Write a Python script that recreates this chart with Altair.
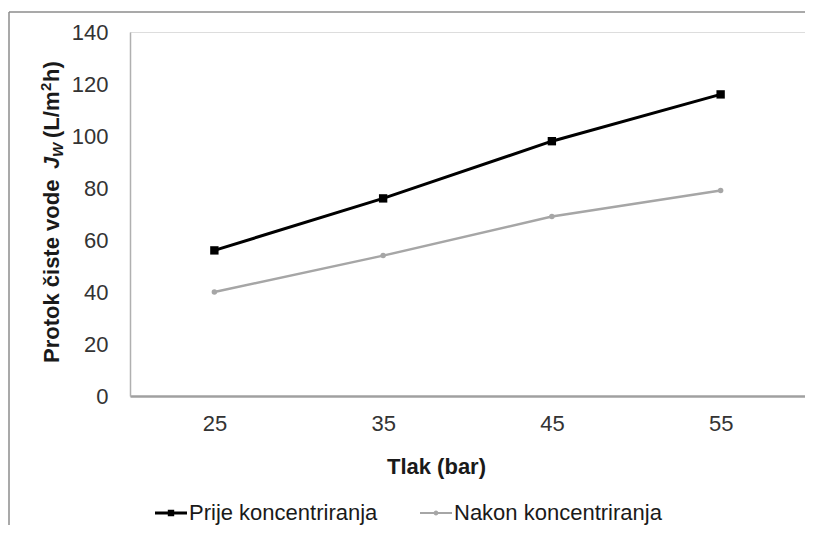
import altair as alt
import pandas as pd

# ---- data ----
pressure = ["25", "35", "45", "55"]
prije = [56, 76, 98, 116]
nakon = [40, 54, 69, 79]
series_names = ["Prije koncentriranja", "Nakon koncentriranja"]

rows = []
for p, v in zip(pressure, prije):
    rows.append({"Tlak": p, "Jw": v, "Serija": series_names[0]})
for p, v in zip(pressure, nakon):
    rows.append({"Tlak": p, "Jw": v, "Serija": series_names[1]})
df = pd.DataFrame(rows)
one = pd.DataFrame({"k": [0]})

FONT = "Liberation Sans"
W, H = 675, 364

x_enc = alt.X("Tlak:O", sort=pressure,
              scale=alt.Scale(type="point", padding=0.5),
              axis=alt.Axis(title="Tlak (bar)", labelAngle=0, ticks=False, tickSize=0,
                            labelPadding=17, labelFontSize=22, labelFont=FONT,
                            labelColor="#333333", domainColor="#a0a0a0", domainWidth=2.5,
                            titleFont=FONT, titleFontSize=22, titleFontWeight="bold",
                            titleColor="#1a1a1a", titleX=306, titleY=70,
                            titleBaseline="middle", titleAnchor="start", titleAlign="center",
                            grid=False))
y_enc = alt.Y("Jw:Q",
              scale=alt.Scale(domain=[0, 140], nice=False),
              axis=alt.Axis(title=None, values=list(range(0, 141, 20)), ticks=False,
                            tickSize=0, labelPadding=22, labelFontSize=22, labelFont=FONT,
                            labelColor="#333333", domainColor="#b0b0b0", domainWidth=1.5,
                            grid=False))

base = alt.Chart(df)

line_black = base.transform_filter(alt.datum.Serija == series_names[0]).mark_line(
    color="#000000", strokeWidth=3).encode(x=x_enc, y=y_enc)
line_gray = base.transform_filter(alt.datum.Serija == series_names[1]).mark_line(
    color="#a6a6a6", strokeWidth=2.5).encode(x=x_enc, y=y_enc)
pt_black = base.transform_filter(alt.datum.Serija == series_names[0]).mark_point(
    shape="square", filled=True, size=70, color="#000000", opacity=1).encode(x=x_enc, y=y_enc)
pt_gray = base.transform_filter(alt.datum.Serija == series_names[1]).mark_point(
    shape="circle", filled=True, size=30, color="#a6a6a6", opacity=1).encode(x=x_enc, y=y_enc)

sym_square = ("M-1,-0.09L1,-0.09L1,0.09L-1,0.09Z"
              "M-0.2,-0.2L0.2,-0.2L0.2,0.2L-0.2,0.2Z")
sym_circle = ("M-1,-0.07L1,-0.07L1,0.07L-1,0.07Z"
              "M0,-0.15A0.15,0.15 0 1,1 0,0.15A0.15,0.15 0 1,1 0,-0.15Z")

leg = dict(title=None, orient="none", direction="horizontal",
           legendX=25, legendY=465, symbolSize=1024,
           symbolOpacity=1, symbolStrokeWidth=0,
           labelFont=FONT, labelFontSize=22, labelColor="#1a1a1a",
           labelOffset=2, columnPadding=42, padding=0, labelLimit=400)

legend_layer = base.mark_point(filled=True, opacity=0).encode(
    x=x_enc, y=y_enc,
    color=alt.Color("Serija:N",
                    scale=alt.Scale(domain=series_names, range=["#000000", "#a6a6a6"]),
                    legend=alt.Legend(**leg)),
    shape=alt.Shape("Serija:N",
                    scale=alt.Scale(domain=series_names, range=[sym_square, sym_circle]),
                    legend=alt.Legend(**leg)),
)

frame_top = alt.Chart(one).mark_rule(color="#8c8c8c", strokeWidth=1.5, clip=False).encode(
    x=alt.value(-121), x2=alt.value(W + 60), y=alt.value(-20))
frame_left = alt.Chart(one).mark_rule(color="#8c8c8c", strokeWidth=1.5, clip=False).encode(
    x=alt.value(-121), y=alt.value(-20), y2=alt.value(H + 300))

tstyle = dict(angle=270, align="left", baseline="alphabetic", font=FONT,
              fontWeight="bold", color="#1a1a1a")
t1 = alt.Chart(one).mark_text(text="Protok čiste vode", fontSize=22, **tstyle).encode(
    x=alt.value(-71), y=alt.value(331))
t2 = alt.Chart(one).mark_text(text="J", fontSize=22, fontStyle="italic", **tstyle).encode(
    x=alt.value(-71), y=alt.value(137))
t3 = alt.Chart(one).mark_text(text="W", fontSize=15, fontStyle="italic", **tstyle).encode(
    x=alt.value(-67), y=alt.value(125))
t4 = alt.Chart(one).mark_text(text="(L/m", fontSize=22, **tstyle).encode(
    x=alt.value(-71), y=alt.value(106))
t5 = alt.Chart(one).mark_text(text="2", fontSize=15, **tstyle).encode(
    x=alt.value(-79), y=alt.value(59))
t6 = alt.Chart(one).mark_text(text="h)", fontSize=22, **tstyle).encode(
    x=alt.value(-71), y=alt.value(50))

chart = alt.layer(frame_top, frame_left, line_gray, line_black, pt_gray, pt_black,
                  legend_layer, t1, t2, t3, t4, t5, t6).properties(
    width=W, height=H,
    autosize=alt.AutoSizeParams(type="none"),
    padding={"left": 122, "top": 24, "right": 0, "bottom": 129},
).configure_view(stroke=None).configure(background="white")

chart.save("out.html", embed_options={"renderer": "svg", "actions": False})
